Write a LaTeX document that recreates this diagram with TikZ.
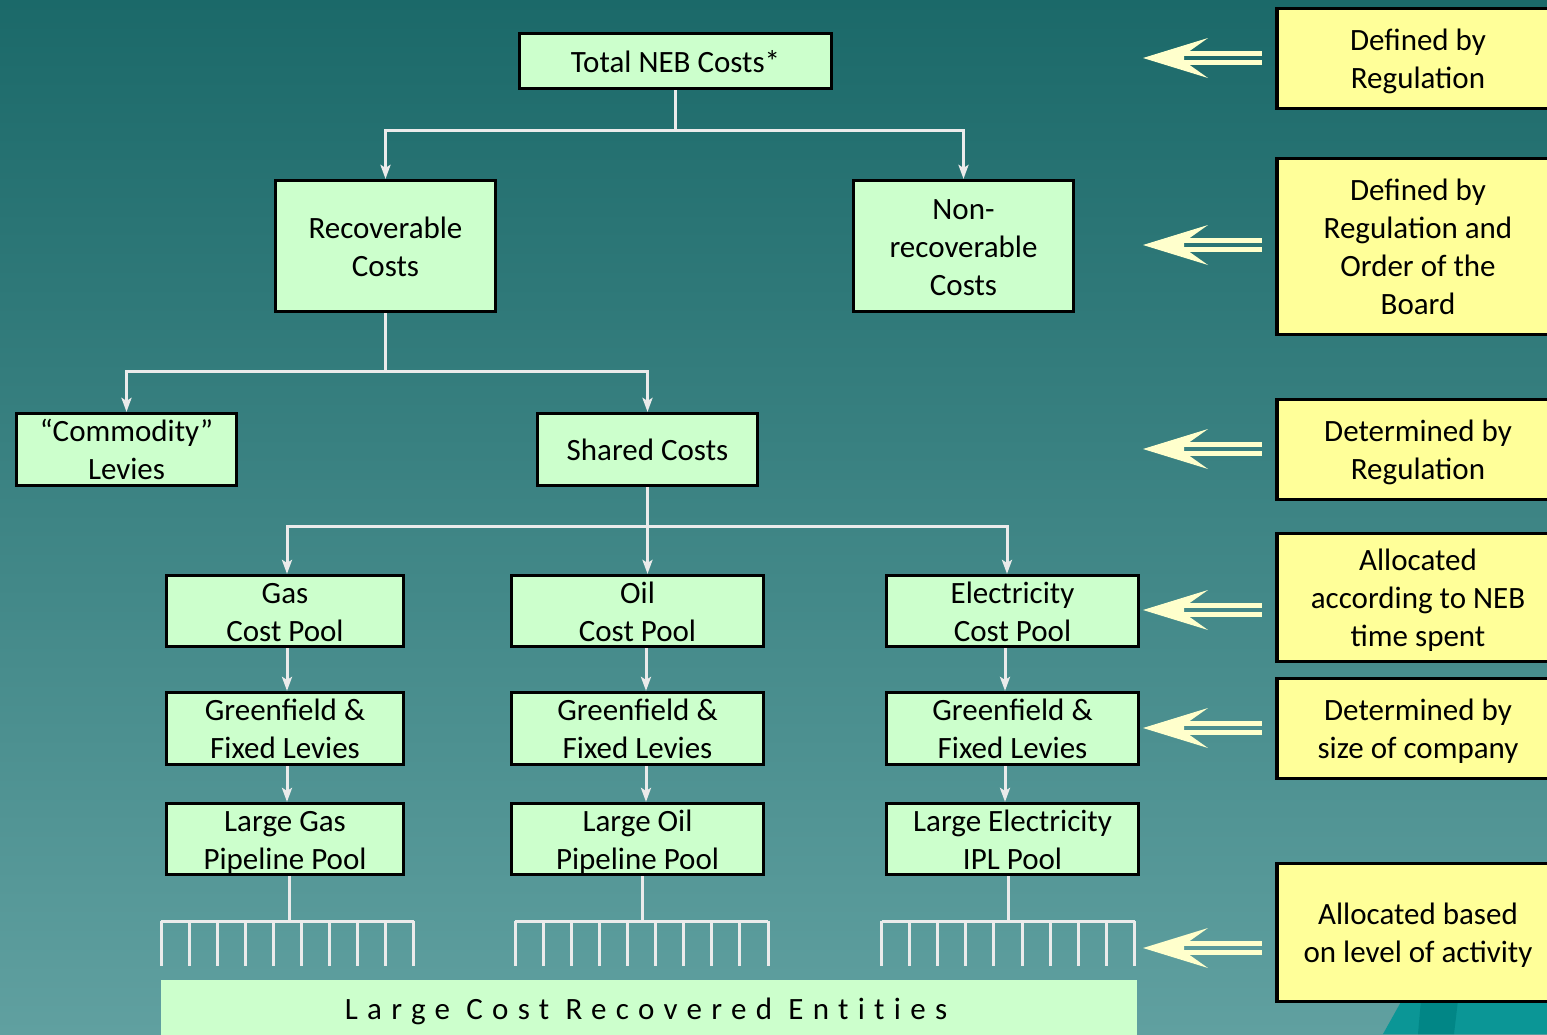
\documentclass[tikz,border=0pt]{standalone}
\usepackage{fontspec}
\setmainfont{Carlito}
\usetikzlibrary{arrows.meta,calc}
\definecolor{bgtop}{RGB}{27,105,105}
\definecolor{bgbot}{RGB}{96,160,160}
\definecolor{boxgreen}{HTML}{CCFFCC}
\definecolor{boxyellow}{HTML}{FFFF99}
\definecolor{linegray}{HTML}{EBEBEB}
\definecolor{arrowcream}{HTML}{FFFFCC}
\definecolor{decoteal}{HTML}{0B9696}
\definecolor{decodark}{HTML}{018686}
\newcommand{\tb}[1]{\raisebox{-1.7pt}[\dimexpr\height-3pt\relax][\dimexpr\depth-3pt\relax]{\begin{tabular}{@{}c@{}}#1\end{tabular}}}
\begin{document}
\begin{tikzpicture}[x=0.5pt,y=-0.5pt,
  every node/.style={font=\fontsize{15.5}{19}\selectfont, inner sep=0pt},
  gbox/.style={draw=black, line width=1.6pt, fill=boxgreen},
  ybox/.style={draw=black, line width=1.6pt, fill=boxyellow, minimum width=141pt},
  conn/.style={draw=linegray, line width=1.5pt},
  arr/.style={conn, -{Stealth[length=7pt,width=5pt,inset=1.5pt]}},
  dblarrow/.pic={
    \fill[arrowcream] (-119,0) -- (-54,-20) -- (-78,-3) -- (-78,3) -- (-54,20) -- cycle;
    \fill[arrowcream] (-80,-6.8) rectangle (0,-2.3);
    \fill[arrowcream] (-80,2.3) rectangle (0,6.8);
  }]
\useasboundingbox (0,0) rectangle (1547,1034);
\clip (0,0) rectangle (1547,1034);
\shade[top color=bgtop, bottom color=bgbot] (0,0) rectangle (1547,1034);

% decoration bottom right
\fill[decoteal] (1383,1034) -- (1402,1000) -- (1547,1000) -- (1547,1034) -- cycle;
\fill[decodark] (1418,1034) -- (1421,1000) -- (1458,1000) -- (1454,1034) -- cycle;

% left diagram boxes
\node[gbox, minimum width=156pt, minimum height=27.5pt] (total) at (675.5,61) {\tb{Total NEB Costs*}};
\node[gbox, minimum width=110pt, minimum height=65.5pt] (rec) at (385.5,246) {\tb{Recoverable\\Costs}};
\node[gbox, minimum width=110pt, minimum height=65.5pt] (nonrec) at (963.5,246) {\tb{Non-\\recoverable\\Costs}};
\node[gbox, minimum width=110pt, minimum height=36pt] (comm) at (126.5,449.5) {\tb{“Commodity”\\Levies}};
\node[gbox, minimum width=110pt, minimum height=36pt] (shared) at (647.5,449.5) {\tb{Shared Costs}};

\node[gbox, minimum width=118.5pt, minimum height=35.5pt] (gaspool) at (285,611) {\tb{Gas\\Cost Pool}};
\node[gbox, minimum width=126pt, minimum height=35.5pt] (oilpool) at (637.5,611) {\tb{Oil\\Cost Pool}};
\node[gbox, minimum width=126pt, minimum height=35.5pt] (elecpool) at (1012.5,611) {\tb{Electricity\\Cost Pool}};

\node[gbox, minimum width=118.5pt, minimum height=36pt] (gasgf) at (285,728.5) {\tb{Greenfield \&\\Fixed Levies}};
\node[gbox, minimum width=126pt, minimum height=36pt] (oilgf) at (637.5,728.5) {\tb{Greenfield \&\\Fixed Levies}};
\node[gbox, minimum width=126pt, minimum height=36pt] (elecgf) at (1012.5,728.5) {\tb{Greenfield \&\\Fixed Levies}};

\node[gbox, minimum width=118.5pt, minimum height=35.5pt] (gaslg) at (285,839) {\tb{Large Gas\\Pipeline Pool}};
\node[gbox, minimum width=126pt, minimum height=35.5pt] (oillg) at (637.5,839) {\tb{Large Oil\\Pipeline Pool}};
\node[gbox, minimum width=126pt, minimum height=35.5pt] (eleclg) at (1012.5,839) {\tb{Large Electricity\\IPL Pool}};

% bottom band
\node[fill=boxgreen, minimum width=488pt, minimum height=30pt] (band) at (649,1010) {};
\node (bandtext) at (646,1008) {\tb{\addfontfeature{LetterSpace=30,Ligatures=NoCommon}Large Cost Recovered Entities}};

% connectors
\draw[arr] (total.south) -- ++(0,40) -| (rec.north);
\draw[arr] (total.south) -- ++(0,40) -| (nonrec.north);
\draw[arr] (rec.south) -- ++(0,58) -| (comm.north);
\draw[arr] (rec.south) -- ++(0,58) -| (shared.north);
\draw[arr] (shared.south) -- ++(0,39) -| ($(gaspool.north)+(2,0)$);
\draw[arr] (shared.south) -- (shared.south |- oilpool.north);
\draw[arr] (shared.south) -- ++(0,39) -| ($(elecpool.north)+(-5.5,0)$);

\draw[arr] ($(gaspool.south)+(2,0)$) -- ($(gasgf.north)+(2,0)$);
\draw[arr] ($(oilpool.south)+(8.5,0)$) -- ($(oilgf.north)+(8.5,0)$);
\draw[arr] ($(elecpool.south)+(-7.5,0)$) -- ($(elecgf.north)+(-7.5,0)$);
\draw[arr] ($(gasgf.south)+(2,0)$) -- ($(gaslg.north)+(2,0)$);
\draw[arr] ($(oilgf.south)+(8.5,0)$) -- ($(oillg.north)+(8.5,0)$);
\draw[arr] ($(elecgf.south)+(-7.5,0)$) -- ($(eleclg.north)+(-7.5,0)$);

% combs
\coordinate (gascomb) at ($(gaslg.south)+(4,0)$);
\coordinate (oilcomb) at ($(oillg.south)+(4.5,0)$);
\coordinate (eleccomb) at ($(eleclg.south)+(-4.5,0)$);
\draw[conn] (gascomb) -- (gascomb |- 0,921);
\draw[conn] (oilcomb) -- (oilcomb |- 0,921);
\draw[conn] (eleccomb) -- (eleccomb |- 0,921);
\foreach \xa/\nm in {161/gas,515/oil,881.5/elec}{
  \coordinate (\nm combL) at (\xa,921);
  \coordinate (\nm combR) at (\xa+253,921);
  \draw[conn] (\nm combL) -- (\nm combR);
  \foreach \i in {0,...,9}{
    \coordinate (\nm tooth\i) at (\xa+28.11*\i,966);
    \draw[conn] (\xa+28.11*\i,921) -- (\nm tooth\i);
  }
}

% right column
\node[ybox, minimum height=50pt] (d1) at (1418,58.5) {\tb{Defined by\\Regulation}};
\node[ybox, minimum height=88pt] (d2) at (1418,246.5) {\tb{Defined by\\Regulation and\\Order of the\\Board}};
\node[ybox, minimum height=50pt] (d3) at (1418,449.5) {\tb{Determined by\\Regulation}};
\node[ybox, minimum height=64pt] (d4) at (1418,597.5) {\tb{Allocated\\according to NEB\\time spent}};
\node[ybox, minimum height=50pt] (d5) at (1418,728.5) {\tb{Determined by\\size of company}};
\node[ybox, minimum height=69pt] (d6) at (1418,932.5) {\tb{Allocated based\\on level of activity}};

\pic at (1262,58) {dblarrow};
\pic at (1262,245) {dblarrow};
\pic at (1262,449) {dblarrow};
\pic at (1262,610) {dblarrow};
\pic at (1262,728) {dblarrow};
\pic at (1262,948) {dblarrow};
\end{tikzpicture}
\end{document}
